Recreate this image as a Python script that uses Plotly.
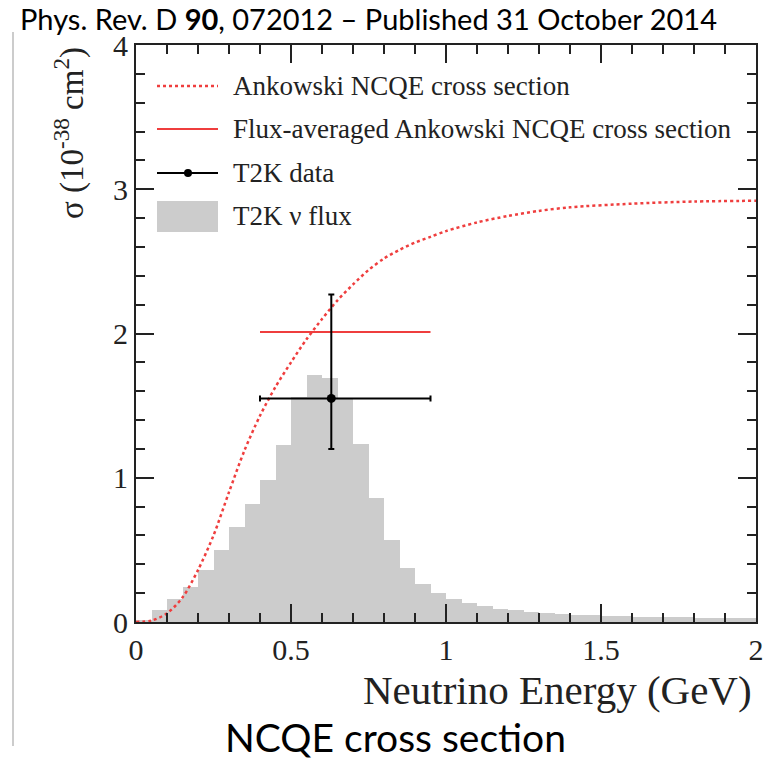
import plotly.graph_objects as go

# ---------------- data ----------------
bin_width = 0.05
bin_left = [round(i * 0.05, 2) for i in range(40)]
flux = [0.01, 0.08, 0.157, 0.243, 0.36, 0.50, 0.66, 0.817, 0.986, 1.227,
        1.558, 1.713, 1.69, 1.55, 1.234, 0.863, 0.569, 0.377, 0.262, 0.20,
        0.158, 0.13, 0.112, 0.093, 0.081, 0.069, 0.062, 0.057, 0.051, 0.046,
        0.042, 0.040, 0.038, 0.036, 0.034, 0.033, 0.031, 0.030, 0.029, 0.028]

curve_x = [0.0, 0.05, 0.1, 0.15, 0.2, 0.25, 0.3, 0.35, 0.4, 0.45, 0.5, 0.55,
           0.6, 0.65, 0.7, 0.75, 0.8, 0.85, 0.9, 0.95, 1.0, 1.1, 1.2, 1.3, 1.4,
           1.6, 1.8, 2.0]
curve_y = [0.0, 0.01, 0.06, 0.17, 0.36, 0.60, 0.90, 1.19, 1.43, 1.63, 1.80, 1.96,
           2.10, 2.23, 2.34, 2.44, 2.52, 2.58, 2.63, 2.67, 2.71, 2.77, 2.815, 2.85,
           2.875, 2.90, 2.915, 2.92]

fluxavg_x = [0.40, 0.95]
fluxavg_y = [2.01, 2.01]

data_x = [0.63]
data_y = [1.55]
data_xerr_minus = [0.23]
data_xerr_plus = [0.32]
data_yerr_minus = [0.35]
data_yerr_plus = [0.72]

legend_labels = ["Ankowski NCQE cross section",
                 "Flux-averaged Ankowski NCQE cross section",
                 "T2K data",
                 "T2K \u03bd flux"]

x_tickvals = [0, 0.5, 1, 1.5, 2]
x_ticktext = ["0", "0.5", "1", "1.5", "2"]
y_tickvals = [0, 1, 2, 3, 4]
y_ticktext = ["0", "1", "2", "3", "4"]

# ---------------- layout geometry ----------------
W, H = 775, 759
L, R, T, B = 136, 19, 45, 137
PW, PH = W - L - R, H - T - B

def px(x):
    return (x - L) / PW

def py(y):
    return (H - B - y) / PH

RED = "#ef3e3e"
GRAY = "#cccccc"
INK = "#222222"
SERIF = "Liberation Serif"

fig = go.Figure()

fig.add_trace(go.Bar(
    x=[b + bin_width / 2 for b in bin_left], y=flux, width=bin_width,
    marker=dict(color=GRAY, line=dict(width=0)), showlegend=False,
))

fig.add_trace(go.Scatter(
    x=curve_x, y=curve_y, mode="lines",
    line=dict(color=RED, width=2.5, dash="dot", shape="spline", smoothing=0.8),
    showlegend=False,
))

fig.add_trace(go.Scatter(
    x=fluxavg_x, y=fluxavg_y, mode="lines", line=dict(color=RED, width=2),
    showlegend=False,
))

fig.add_trace(go.Scatter(
    x=data_x, y=data_y, mode="markers",
    marker=dict(color="black", size=9),
    error_x=dict(type="data", symmetric=False, array=data_xerr_plus, arrayminus=data_xerr_minus,
                 color="black", thickness=2, width=3),
    error_y=dict(type="data", symmetric=False, array=data_yerr_plus, arrayminus=data_yerr_minus,
                 color="black", thickness=2, width=3),
    showlegend=False,
))

axis_common = dict(
    showline=True, linecolor=INK, linewidth=2, mirror="allticks",
    ticks="inside", ticklen=18, tickwidth=1.5, tickcolor=INK,
    showgrid=False, zeroline=False,
    tickfont=dict(family=SERIF, size=30, color=INK),
)

fig.update_xaxes(range=[0, 2], tickvals=x_tickvals, ticktext=x_ticktext,
                 minor=dict(ticks="inside", dtick=0.1, ticklen=9, tickwidth=1.5, tickcolor=INK),
                 **axis_common)
fig.update_yaxes(range=[0, 4], tickvals=y_tickvals, ticktext=y_ticktext,
                 minor=dict(ticks="inside", dtick=0.2, ticklen=9, tickwidth=1.5, tickcolor=INK),
                 **axis_common)

shapes = []
annotations = []

# legend (manual, ROOT style)
lx0, lx1, ltx = px(157), px(218), px(231)
rows = [86, 129, 173, 216]
shapes.append(dict(type="line", xref="paper", yref="paper", x0=lx0, x1=lx1, y0=py(rows[0]), y1=py(rows[0]),
                   line=dict(color=RED, width=2.5, dash="dot")))
shapes.append(dict(type="line", xref="paper", yref="paper", x0=lx0, x1=lx1, y0=py(rows[1]), y1=py(rows[1]),
                   line=dict(color=RED, width=2)))
shapes.append(dict(type="line", xref="paper", yref="paper", x0=lx0, x1=lx1, y0=py(rows[2]), y1=py(rows[2]),
                   line=dict(color="black", width=2)))
shapes.append(dict(type="circle", xref="paper", yref="paper", xsizemode="pixel", ysizemode="pixel",
                   xanchor=px(188), yanchor=py(rows[2]), x0=-4, x1=4, y0=-4, y1=4,
                   fillcolor="black", line=dict(color="black", width=0)))
shapes.append(dict(type="rect", xref="paper", yref="paper", x0=lx0, x1=lx1, y0=py(232), y1=py(201),
                   fillcolor=GRAY, line=dict(width=0)))
for r, lab in zip(rows, legend_labels):
    annotations.append(dict(text=lab, xref="paper", yref="paper", x=ltx, y=py(r), xanchor="left",
                            yanchor="middle", showarrow=False,
                            font=dict(family=SERIF, size=27, color=INK)))

# axis titles
annotations.append(dict(text="Neutrino Energy (GeV)", xref="paper", yref="paper", x=px(754), y=py(690),
                        xanchor="right", yanchor="middle", showarrow=False,
                        font=dict(family=SERIF, size=41, color=INK)))
annotations.append(dict(text="\u03c3 (10<sup>-38</sup> cm<sup>2</sup>)", xref="paper", yref="paper",
                        x=px(69), y=py(133), xanchor="center", yanchor="middle", textangle=-90,
                        showarrow=False, font=dict(family=SERIF, size=33, color=INK)))

# slide texts
annotations.append(dict(text="Phys. Rev. D <b>90</b>, 072012 \u2013 Published 31 October 2014",
                        xref="paper", yref="paper", x=px(18), y=py(19), xanchor="left", yanchor="middle",
                        showarrow=False, font=dict(family="Lato", size=29, color="black")))
annotations.append(dict(text="NCQE cross section", xref="paper", yref="paper", x=px(395), y=py(737),
                        xanchor="center", yanchor="middle", showarrow=False,
                        font=dict(family="Lato", size=39, color="black")))

# slide border line at left
shapes.append(dict(type="line", xref="paper", yref="paper", x0=px(13), x1=px(13), y0=py(32), y1=py(746),
                   line=dict(color="#bbbbbb", width=1.5)))

fig.update_layout(
    width=W, height=H, margin=dict(l=L, r=R, t=T, b=B),
    paper_bgcolor="white", plot_bgcolor="white",
    bargap=0, showlegend=False,
    shapes=shapes, annotations=annotations,
)

fig.write_html("out.html")
